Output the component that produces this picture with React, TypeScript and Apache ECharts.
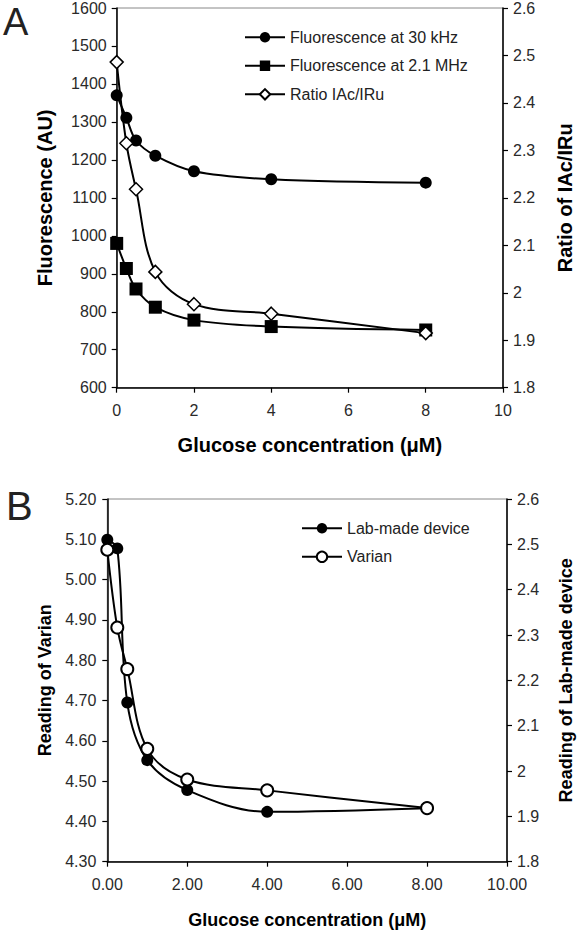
import React, { useEffect, useRef } from "react";
import * as echarts from "echarts";

// ---- Panel A data ----
const concA = [0, 0.25, 0.5, 1, 2, 4, 8];
const fluo30k = [1370, 1311, 1251, 1211, 1170, 1149, 1140];
const fluo21M = [980, 914, 860, 812, 778, 761, 752];
const ratioAcRu = [2.486, 2.315, 2.218, 2.044, 1.976, 1.956, 1.915];

// ---- Panel B data ----
const concB = [0, 0.25, 0.5, 1, 2, 4, 8];
const labMade = [2.51, 2.491, 2.151, 2.024, 1.958, 1.91, 1.918];
const varian = [5.074, 4.881, 4.778, 4.58, 4.504, 4.477, 4.433];

const seriesNamesA = ["Fluorescence at 30 kHz", "Fluorescence at 2.1 MHz", "Ratio IAc/IRu"];
const seriesNamesB = ["Lab-made device", "Varian"];

const FONT = "'Liberation Sans', Arial, sans-serif";

const pair = (xs: number[], ys: number[]) => xs.map((x, i) => [x, ys[i]]);

export default function App() {
  const ref = useRef<HTMLDivElement>(null);
  useEffect(() => {
    const chart = echarts.init(ref.current!, null, { renderer: "svg" });
    const axisLine = { show: true, lineStyle: { color: "#000", width: 1.5 } };
    const axisTick = { show: true, inside: false, length: 5, lineStyle: { color: "#000", width: 1.2 } };
    const plain = (v: number) => String(Math.round(v * 1000) / 1000);
    const label = (margin: number, fmt: (v: number) => string = plain) => ({
      color: "#2a2a2a",
      fontSize: 16,
      fontFamily: FONT,
      margin,
      formatter: fmt,
    });
    const nameStyle = (size: number) => ({
      fontFamily: FONT,
      fontWeight: "bold" as const,
      fontSize: size,
      color: "#000",
    });
    const lineStyle = { color: "#000", width: 2 };
    const smooth = 0.35;

    chart.setOption({
      animation: false,
      backgroundColor: "#fff",
      grid: [
        { left: 116.7, top: 7.7, width: 393.3, height: 380, show: true, borderColor: "#888", borderWidth: 1 },
        { left: 107.3, top: 499, width: 406.7, height: 362.7, show: true, borderColor: "#888", borderWidth: 1 },
      ],
      xAxis: [
        {
          type: "value", gridIndex: 0, min: 0, max: 10, interval: 2,
          axisLine, axisTick, splitLine: { show: false },
          axisLabel: label(15),
          name: "Glucose concentration (μM)", nameLocation: "middle", nameGap: 47,
          nameTextStyle: nameStyle(20),
        },
        {
          type: "value", gridIndex: 1, min: 0, max: 10, interval: 2,
          axisLine, axisTick, splitLine: { show: false },
          axisLabel: label(15, (v: number) => v.toFixed(2)),
          name: "Glucose concentration (μM)", nameLocation: "middle", nameGap: 49,
          nameTextStyle: nameStyle(18),
        },
      ],
      yAxis: [
        {
          type: "value", gridIndex: 0, min: 600, max: 1600, interval: 100, position: "left",
          axisLine, axisTick, splitLine: { show: false },
          axisLabel: label(10),
          name: "Fluorescence (AU)", nameLocation: "middle", nameGap: 62,
          nameTextStyle: nameStyle(20),
        },
        {
          type: "value", gridIndex: 0, min: 1.8, max: 2.6, interval: 0.1, position: "right",
          axisLine, axisTick, splitLine: { show: false },
          axisLabel: label(10),
          name: "Ratio of IAc/IRu", nameLocation: "middle", nameGap: 52,
          nameTextStyle: nameStyle(20),
        },
        {
          type: "value", gridIndex: 1, min: 4.3, max: 5.2, interval: 0.1, position: "left",
          axisLine, axisTick, splitLine: { show: false },
          axisLabel: label(11, (v: number) => v.toFixed(2)),
          name: "Reading of Varian", nameLocation: "middle", nameGap: 53,
          nameTextStyle: nameStyle(18),
        },
        {
          type: "value", gridIndex: 1, min: 1.8, max: 2.6, interval: 0.1, position: "right",
          axisLine, axisTick, splitLine: { show: false },
          axisLabel: label(10),
          name: "Reading of Lab-made device", nameLocation: "middle", nameGap: 50,
          nameTextStyle: nameStyle(18),
        },
      ],
      legend: [
        {
          data: seriesNamesA, orient: "vertical", left: 239, top: 24.3,
          itemWidth: 40, itemHeight: 13, itemGap: 12.5,
          textStyle: { fontFamily: FONT, fontSize: 16, color: "#222", lineHeight: 16 },
        },
        {
          data: seriesNamesB, orient: "vertical", left: 296, top: 515.3,
          itemWidth: 40, itemHeight: 13, itemGap: 12.5,
          textStyle: { fontFamily: FONT, fontSize: 16, color: "#222", lineHeight: 16 },
        },
      ],
      graphic: [
        { type: "text", left: 3, top: 3, style: { text: "A", fontFamily: FONT, fontSize: 38, fill: "#222" } },
        { type: "text", left: 6, top: 486, style: { text: "B", fontFamily: FONT, fontSize: 40, fill: "#222" } },
      ],
      series: [
        {
          name: seriesNamesA[0], type: "line", xAxisIndex: 0, yAxisIndex: 0,
          data: pair(concA, fluo30k), smooth, symbol: "circle", symbolSize: 12,
          itemStyle: { color: "#000" }, lineStyle,
        },
        {
          name: seriesNamesA[1], type: "line", xAxisIndex: 0, yAxisIndex: 0,
          data: pair(concA, fluo21M), smooth, symbol: "rect", symbolSize: 13,
          itemStyle: { color: "#000" }, lineStyle,
        },
        {
          name: seriesNamesA[2], type: "line", xAxisIndex: 0, yAxisIndex: 1,
          data: pair(concA, ratioAcRu), smooth, symbol: "diamond", symbolSize: 13,
          itemStyle: { color: "#fff", borderColor: "#000", borderWidth: 1.5 }, lineStyle,
        },
        {
          name: seriesNamesB[0], type: "line", xAxisIndex: 1, yAxisIndex: 3,
          data: pair(concB, labMade), smooth, symbol: "circle", symbolSize: 12,
          itemStyle: { color: "#000" }, lineStyle,
        },
        {
          name: seriesNamesB[1], type: "line", xAxisIndex: 1, yAxisIndex: 2,
          data: pair(concB, varian), smooth, symbol: "circle", symbolSize: 12,
          itemStyle: { color: "#fff", borderColor: "#000", borderWidth: 2 }, lineStyle,
        },
      ],
    });
    return () => chart.dispose();
  }, []);
  return (
    <div
      ref={ref}
      style={{ position: "fixed", left: 0, top: 0, width: 583, height: 936, background: "#fff" }}
    />
  );
}
